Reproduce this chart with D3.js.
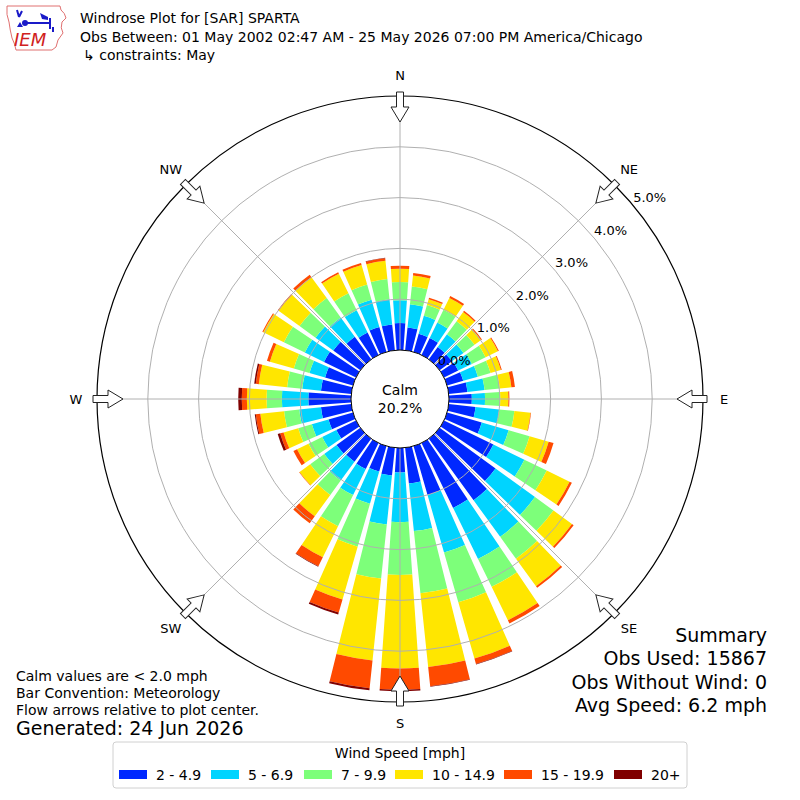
<!DOCTYPE html>
<html>
<head>
<meta charset="utf-8">
<script src="https://cdn.jsdelivr.net/npm/d3@7"></script>
<style>
  body { margin: 0; background: #fff; }
  text { font-family: "DejaVu Sans", sans-serif; fill: #000; }
</style>
</head>
<body>
<div id="chart"></div>
<script>
// direction of each bar, degrees from north
const directions = d3.range(0, 360, 10);
const binLabels = ["2 - 4.9", "5 - 6.9", "7 - 9.9", "10 - 14.9", "15 - 19.9", "20+"];
const binColors = ["#0028ff", "#00d4ff", "#7dff7a", "#ffe600", "#ff4a00", "#800000"];

// percent of obs per direction, one array per speed bin
const spd2to5 = [0.53,0.45,0.37,0.37,0.30,0.30,0.31,0.33,0.37,0.45, 0.53,0.71,1.08,1.36,1.50,1.42,1.00,0.71,0.48,0.55,
                 0.52,0.57,0.56,0.58,0.43,0.50,0.60,0.84,0.60,0.57, 0.70,0.66,0.55,0.49,0.51,0.51];
const spd5to7 = [0.45,0.46,0.37,0.34,0.31,0.28,0.30,0.30,0.34,0.26, 0.47,0.55,0.68,0.96,0.89,1.12,1.18,0.94,0.98,0.97,
                 0.66,0.57,0.46,0.30,0.31,0.34,0.43,0.52,0.37,0.32, 0.42,0.43,0.47,0.49,0.56,0.50];
const spd7to10 = [0.36,0.35,0.22,0.28,0.32,0.27,0.30,0.26,0.30,0.30, 0.30,0.43,0.49,0.45,0.53,0.61,1.02,1.23,1.04,1.07,
                  0.88,0.68,0.35,0.34,0.30,0.28,0.30,0.30,0.30,0.32, 0.46,0.39,0.47,0.37,0.31,0.40];
const spd10to15 = [0.26,0.22,0.12,0.26,0.22,0.16,0.27,0.21,0.23,0.16, 0.32,0.39,0.50,0.45,0.67,0.73,1.15,1.46,1.84,1.62,
                   1.08,0.68,0.52,0.26,0.25,0.30,0.47,0.39,0.56,0.49, 0.45,0.51,0.51,0.43,0.40,0.36];
const spd15to20 = [0.06,0.05,0.03,0.04,0.03,0.02,0.02,0.02,0.07,0.02, 0.01,0.10,0.05,0.04,0.04,0.07,0.11,0.38,0.42,0.55,
                   0.27,0.20,0.17,0.01,0.08,0.07,0.09,0.10,0.06,0.06, 0.02,0.02,0.06,0.03,0.04,0.05];
const spd20up = [0,0,0,0,0,0,0,0,0,0, 0,0,0,0,0,0,0.01,0.01,0.03,0.04,
                 0.04,0.01,0,0,0,0.05,0.02,0.07,0.03,0, 0,0,0,0,0,0.01];

const ringTicks = [0, 1, 2, 3, 4, 5];
const compass = ["N", "NE", "E", "SE", "S", "SW", "W", "NW"];
const calmPct = "20.2%";
const summaryLines = ["Summary", "Obs Used: 15867", "Obs Without Wind: 0", "Avg Speed: 6.2 mph"];
const noteLines = ["Calm values are < 2.0 mph", "Bar Convention: Meteorology", "Flow arrows relative to plot center."];

const width = 800, height = 800;
const cx = 400, cy = 399;

const svg = d3.select("#chart").append("svg")
    .attr("width", width)
    .attr("height", height);

const rScale = d3.scaleLinear().domain([0, 5]).range([49, 303]);
const rad = d => d * Math.PI / 180;

const series = [spd2to5, spd5to7, spd7to10, spd10to15, spd15to20, spd20up];
const stack = d3.stack().keys(d3.range(series.length))
    .value((d, k) => series[k][d]);
const stacked = stack(d3.range(directions.length));

const plot = svg.append("g").attr("transform", `translate(${cx}, ${cy})`);

const arc = d3.arc();
stacked.forEach((layer, k) => {
    plot.append("g").selectAll("path")
        .data(layer)
        .join("path")
        .attr("fill", binColors[k])
        .attr("d", (d, i) => arc({
            innerRadius: rScale(d[0]),
            outerRadius: rScale(d[1]),
            startAngle: rad(directions[i] - 4),
            endAngle: rad(directions[i] + 4)
        }));
});

// grid on top of the bars
plot.append("g").selectAll("circle")
    .data(ringTicks.slice(1, -1))
    .join("circle")
    .attr("r", d => rScale(d))
    .attr("fill", "none")
    .attr("stroke", "#b0b0b0")
    .attr("stroke-width", 1);

plot.append("g").selectAll("line")
    .data(d3.range(0, 360, 45))
    .join("line")
    .attr("x1", a => rScale(0) * Math.sin(rad(a)))
    .attr("y1", a => -rScale(0) * Math.cos(rad(a)))
    .attr("x2", a => rScale(5) * Math.sin(rad(a)))
    .attr("y2", a => -rScale(5) * Math.cos(rad(a)))
    .attr("stroke", "#b0b0b0")
    .attr("stroke-width", 1);

plot.append("circle")
    .attr("r", rScale(5))
    .attr("fill", "none")
    .attr("stroke", "#000")
    .attr("stroke-width", 1.2);

// calm circle
plot.append("circle")
    .attr("r", rScale(0))
    .attr("fill", "#fff")
    .attr("stroke", "#000")
    .attr("stroke-width", 1);
plot.append("text").attr("y", -4).attr("text-anchor", "middle").attr("font-size", 14).text("Calm");
plot.append("text").attr("y", 14).attr("text-anchor", "middle").attr("font-size", 14).text(calmPct);

// flow arrows
const arrowPts = [[0,-277],[9,-292],[3.5,-292],[3.5,-307],[-3.5,-307],[-3.5,-292],[-9,-292]];
plot.append("g").selectAll("polygon")
    .data(d3.range(0, 360, 45))
    .join("polygon")
    .attr("transform", a => `rotate(${a})`)
    .attr("points", arrowPts.map(p => p.join(",")).join(" "))
    .attr("fill", "#fff")
    .attr("stroke", "#222")
    .attr("stroke-width", 1);

// compass labels
plot.append("g").selectAll("text")
    .data(compass)
    .join("text")
    .attr("x", (d, i) => 324 * Math.sin(rad(i * 45)))
    .attr("y", (d, i) => -324 * Math.cos(rad(i * 45)))
    .attr("text-anchor", "middle")
    .attr("dominant-baseline", "central")
    .attr("font-size", 13)
    .text(d => d);

// radial labels
const labelAngle = rad(50.3);
plot.append("g").selectAll("text")
    .data(ringTicks)
    .join("text")
    .attr("x", d => rScale(d) * Math.sin(labelAngle))
    .attr("y", d => -rScale(d) * Math.cos(labelAngle) - 3)
    .attr("font-size", 13)
    .text(d => d3.format(".1f")(d) + "%");

// header
svg.append("text").attr("x", 80).attr("y", 23).attr("font-size", 14).text("Windrose Plot for [SAR] SPARTA");
svg.append("text").attr("x", 80).attr("y", 42).attr("font-size", 14)
    .text("Obs Between: 01 May 2002 02:47 AM - 25 May 2026 07:00 PM America/Chicago");
svg.append("text").attr("x", 83).attr("y", 60).attr("font-size", 14).text("\u21b3 constraints: May");

// IEM logo (rough)
const logo = svg.append("g");
logo.append("path")
    .attr("d", "M7,6 L60,6 L61,10 Q65,13 66,18 L62,22 Q60,28 63,33 L58,40 L56,47 L52,50 L16,50 Q15,44 12,38 Q10,30 9,22 Q6,15 7,6 Z")
    .attr("fill", "#fff").attr("stroke", "#e07070").attr("stroke-width", 1);
logo.append("path")
    .attr("d", "M17,10 L19,17 M22,11 L19,17 M24,23 L50,23 M50,18 L50,29 M53,27 L53,32")
    .attr("fill", "none").attr("stroke", "#1a1ac8").attr("stroke-width", 2);
logo.append("path")
    .attr("d", "M40,13 L48,17 L48,20 L42,19 Z M17,27 L20,22 L23,27 Z")
    .attr("fill", "#1a1ac8");
logo.append("circle").attr("cx", 25).attr("cy", 23).attr("r", 3).attr("fill", "#1a1ac8");
logo.append("text").attr("x", 14).attr("y", 46)
    .attr("font-family", "Liberation Serif, serif").attr("font-style", "italic")
    .attr("font-size", 18).style("fill", "#d02020").text("IEM");

// notes and summary
svg.append("g").selectAll("text")
    .data(noteLines)
    .join("text")
    .attr("x", 16)
    .attr("y", (d, i) => 681 + i * 17)
    .attr("font-size", 14)
    .text(d => d);
svg.append("text").attr("x", 16).attr("y", 735).attr("font-size", 19).text("Generated: 24 Jun 2026");

svg.append("g").selectAll("text")
    .data(summaryLines)
    .join("text")
    .attr("x", 767)
    .attr("y", (d, i) => 642 + i * 23.4)
    .attr("text-anchor", "end")
    .attr("font-size", 19)
    .text(d => d);

// legend
const legend = svg.append("g");
legend.append("rect")
    .attr("x", 113).attr("y", 742).attr("width", 574).attr("height", 46).attr("rx", 3)
    .attr("fill", "#fff").attr("stroke", "#d0d0d0");
legend.append("text").attr("x", 400).attr("y", 758).attr("text-anchor", "middle")
    .attr("font-size", 14).text("Wind Speed [mph]");
const legX = [119, 211, 304, 395, 504, 614];
const items = legend.selectAll("g.item")
    .data(binLabels)
    .join("g")
    .attr("class", "item")
    .attr("transform", (d, i) => `translate(${legX[i]}, 770)`);
items.append("rect").attr("width", 28).attr("height", 9).attr("fill", (d, i) => binColors[i]);
items.append("text").attr("x", 37).attr("y", 10).attr("font-size", 14).text(d => d);
</script>
</body>
</html>
